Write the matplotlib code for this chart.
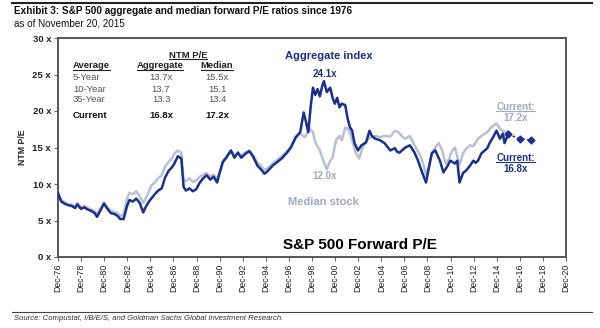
import matplotlib
matplotlib.use("Agg")
import matplotlib.pyplot as plt
from matplotlib.lines import Line2D

plt.rcParams['font.family'] = ['Liberation Sans', 'DejaVu Sans']

# ---------------- data ----------------
agg_years = [1976.92, 1977.2, 1977.5, 1977.8, 1978.1, 1978.4, 1978.6, 1978.9, 1979.2, 1979.5,
             1979.8, 1980.1, 1980.3, 1980.6, 1980.9, 1981.2, 1981.5, 1981.8, 1982.1, 1982.3,
             1982.6, 1982.9, 1983.1, 1983.4, 1983.7, 1984.0, 1984.3, 1984.5, 1984.8, 1985.0,
             1985.3, 1985.6, 1985.9, 1986.2, 1986.5, 1986.8, 1987.0, 1987.3, 1987.6, 1987.8,
             1988.0, 1988.3, 1988.6, 1988.9, 1989.2, 1989.5, 1989.8, 1990.1, 1990.4, 1990.7,
             1990.9, 1991.2, 1991.5, 1991.9, 1992.2, 1992.5, 1992.8, 1993.2, 1993.5, 1993.8,
             1994.2, 1994.5, 1994.8, 1995.1, 1995.5, 1995.9, 1996.3, 1996.7, 1997.1, 1997.5,
             1997.9, 1998.2, 1998.4, 1998.6, 1998.8, 1999.0, 1999.2, 1999.4, 1999.6, 1999.8,
             1999.95, 2000.2, 2000.5, 2000.7, 2000.9, 2001.1, 2001.3, 2001.5, 2001.8, 2002.0,
             2002.2, 2002.4, 2002.6, 2002.9, 2003.2, 2003.6, 2003.9, 2004.1, 2004.4, 2004.8,
             2005.2, 2005.5, 2005.7, 2006.1, 2006.3, 2006.5, 2007.0, 2007.4, 2007.8, 2008.1,
             2008.3, 2008.6, 2008.8, 2009.0, 2009.3, 2009.6, 2010.0, 2010.3, 2010.6, 2010.9,
             2011.3, 2011.5, 2011.7, 2012.0, 2012.3, 2012.6, 2012.9, 2013.1, 2013.3, 2013.6,
             2014.1, 2014.3, 2014.6, 2014.9, 2015.2, 2015.45, 2015.6, 2015.89]
agg_pe = [8.7, 7.6, 7.3, 7.1, 7.0, 6.7, 7.2, 6.6, 6.8, 6.5,
          6.3, 6.0, 5.5, 6.4, 7.3, 6.6, 6.0, 5.9, 5.6, 5.2,
          5.2, 7.0, 7.8, 7.6, 8.0, 7.4, 6.1, 6.8, 7.6, 8.0,
          8.6, 9.1, 9.4, 10.9, 11.8, 12.3, 12.8, 13.8, 13.5, 9.6,
          9.1, 9.4, 9.0, 9.3, 10.2, 10.8, 11.2, 10.6, 11.0, 10.2,
          11.4, 13.0, 13.6, 14.6, 13.6, 14.3, 13.6, 14.2, 14.5, 13.8,
          12.5, 12.0, 11.4, 11.8, 12.5, 13.0, 13.5, 14.2, 15.0, 16.4,
          17.1, 19.8, 18.5, 17.1, 20.5, 23.2, 22.2, 23.0, 22.0, 23.4,
          24.1, 22.6, 23.2, 21.8, 21.0, 21.8, 20.5, 21.0, 20.8, 19.0,
          17.8, 17.3, 15.6, 14.6, 15.3, 15.7, 17.3, 16.6, 16.2, 16.0,
          15.6, 15.0, 14.6, 14.9, 14.4, 14.3, 15.0, 15.3, 14.3, 13.2,
          12.3, 11.0, 10.2, 11.9, 14.2, 14.6, 13.2, 11.6, 12.3, 13.2,
          12.8, 13.2, 10.2, 11.5, 11.9, 12.5, 13.2, 12.9, 13.2, 14.2,
          14.9, 15.6, 16.4, 17.3, 16.2, 16.9, 15.6, 16.8]

med_years = [1976.92, 1977.2, 1977.5, 1977.8, 1978.1, 1978.4, 1978.6, 1978.9, 1979.2, 1979.5,
             1979.8, 1980.1, 1980.3, 1980.6, 1980.9, 1981.2, 1981.5, 1981.8, 1982.1, 1982.3,
             1982.6, 1982.9, 1983.1, 1983.4, 1983.7, 1984.0, 1984.3, 1984.5, 1984.8, 1985.0,
             1985.3, 1985.6, 1985.9, 1986.2, 1986.5, 1986.8, 1987.0, 1987.3, 1987.6, 1987.8,
             1988.0, 1988.3, 1988.6, 1988.9, 1989.2, 1989.5, 1989.8, 1990.1, 1990.4, 1990.7,
             1990.9, 1991.2, 1991.5, 1991.9, 1992.2, 1992.5, 1992.8, 1993.2, 1993.5, 1993.8,
             1994.2, 1994.5, 1994.8, 1995.1, 1995.5, 1995.9, 1996.3, 1996.7, 1997.1, 1997.5,
             1997.9, 1998.3, 1998.7, 1999.0, 1999.2, 1999.6, 1999.9, 2000.2, 2000.5, 2000.7,
             2001.0, 2001.3, 2001.5, 2001.8, 2002.1, 2002.4, 2002.7, 2003.0, 2003.3, 2003.7,
             2004.0, 2004.4, 2004.8, 2005.2, 2005.7, 2006.1, 2006.4, 2006.8, 2007.0, 2007.4,
             2007.8, 2008.3, 2008.6, 2008.8, 2009.0, 2009.3, 2009.6, 2009.9, 2010.2, 2010.5,
             2010.8, 2011.0, 2011.3, 2011.7, 2012.0, 2012.3, 2012.6, 2012.9, 2013.3, 2013.6,
             2014.1, 2014.4, 2014.9, 2015.2, 2015.6, 2015.89]
med_pe = [8.8, 7.8, 7.5, 7.2, 7.2, 6.9, 7.4, 6.8, 7.0, 6.7,
          6.5, 6.3, 5.9, 6.6, 7.5, 6.8, 6.3, 6.2, 6.0, 5.6,
          5.8, 8.0, 8.8, 8.6, 9.0, 8.3, 7.4, 8.0, 9.0, 9.8,
          10.2, 10.8, 11.2, 12.4, 13.0, 13.6, 14.2, 14.6, 14.3, 10.5,
          10.4, 10.8, 10.3, 10.5, 11.0, 11.3, 11.5, 11.0, 11.3, 10.6,
          11.6, 13.2, 13.8, 14.5, 13.9, 14.2, 13.9, 14.4, 14.6, 14.0,
          12.9, 12.5, 11.9, 12.2, 12.8, 13.3, 13.8, 14.4, 15.2, 16.2,
          16.9, 16.4, 17.6, 17.1, 15.7, 14.6, 13.2, 12.0, 13.2, 13.6,
          16.0, 16.6, 16.0, 17.7, 17.5, 16.0, 14.3, 13.5, 15.0, 16.0,
          16.4, 16.6, 16.4, 16.6, 16.5, 17.3, 17.1, 16.4, 16.2, 16.6,
          15.3, 13.9, 12.5, 11.3, 12.0, 14.3, 15.0, 15.6, 14.6, 12.8,
          13.5, 14.4, 15.0, 12.6, 14.2, 14.9, 15.3, 15.2, 16.2, 16.6,
          17.1, 17.7, 18.3, 17.6, 17.1, 17.2]

fwd_years = [2015.89, 2016.92, 2017.92]
fwd_pe = [16.8, 16.2, 16.0]

xtick_years = [1976.92 + 2 * i for i in range(23)]
xtick_labels = ['Dec-%02d' % ((76 + 2 * i) % 100) for i in range(23)]
ytick_vals = [0, 5, 10, 15, 20, 25, 30]
ytick_labels = ['%d x' % v for v in ytick_vals]

table_rows = ['5-Year', '10-Year', '35-Year']
table_agg = ['13.7x', '13.7', '13.3']
table_med = ['15.5x', '15.1', '13.4']
current_agg = '16.8x'
current_med = '17.2x'

# ---------------- styles ----------------
NAVY = '#1b3187'
LIGHT = '#b9c0d6'
LIGHT_TXT = '#9ea8c8'

fig = plt.figure(figsize=(6, 3.28), dpi=100)
W, H = 600, 328
ax = fig.add_axes([58 / W, 1 - 257 / H, (566 - 58) / W, (257 - 38) / H])

ax.plot(med_years, med_pe, color=LIGHT, lw=1.8, zorder=2)
ax.plot(agg_years, agg_pe, color=NAVY, lw=1.8, zorder=3)
ax.plot(fwd_years, fwd_pe, color=NAVY, lw=1.2, ls=(0, (1.5, 1.5)), marker='D',
        markersize=3.5, zorder=3)

ax.set_xlim(1976.92, 2020.92)
ax.set_ylim(0, 30)
ax.set_xticks(xtick_years)
ax.set_xticklabels(xtick_labels, rotation=90, fontsize=6.3, color='#222222')
ax.set_yticks(ytick_vals)
ax.set_yticklabels(ytick_labels, fontsize=6.8, fontweight='bold', color='#222222')
ax.tick_params(axis='both', length=3, width=0.8, color='#666666', pad=2)
for s in ax.spines.values():
    s.set_color('#555555')
    s.set_linewidth(1.4)
ax.set_ylabel('NTM P/E', fontsize=6.3, fontweight='bold', labelpad=4, color='#222222')

# chart annotations
ax.text(1996.57, 27.6, 'Aggregate index', fontsize=8, fontweight='bold', color=NAVY,
        va='center', ha='left')
ax.text(2000.05, 25.1, '24.1x', fontsize=7, fontweight='bold', color=NAVY,
        va='center', ha='center')
ax.text(2000.05, 11.1, '12.0x', fontsize=7, fontweight='bold', color=LIGHT_TXT,
        va='center', ha='center')
ax.text(1996.8, 7.5, 'Median stock', fontsize=8, fontweight='bold', color=LIGHT_TXT,
        va='center', ha='left')
t_cm = ax.text(2016.55, 20.6, 'Current:', fontsize=7, fontweight='bold', color=LIGHT_TXT,
               va='center', ha='center')
ax.text(2016.55, 19.0, current_med, fontsize=7, fontweight='bold', color=LIGHT_TXT,
        va='center', ha='center')
t_ca = ax.text(2016.55, 13.6, 'Current:', fontsize=7, fontweight='bold', color=NAVY,
               va='center', ha='center')
ax.text(2016.55, 12.1, current_agg, fontsize=7, fontweight='bold', color=NAVY,
        va='center', ha='center')
ax.text(2003.1, 1.6, 'S&P 500 Forward P/E', fontsize=11, fontweight='bold',
        color='black', va='center', ha='center')

# table
def axx(px):
    return (px - 58) / 508.0

def axy(py):
    return (257 - py) / 219.0

tr = ax.transAxes
tsz = 6.8
t_ntm = ax.text(axx(188), axy(55), 'NTM P/E', transform=tr, fontsize=tsz, fontweight='bold',
                ha='center', va='center', color='#222222')
t_avg = ax.text(axx(73), axy(66), 'Average', transform=tr, fontsize=tsz, fontweight='bold',
                ha='left', va='center', color='#222222')
t_agh = ax.text(axx(160), axy(66), 'Aggregate', transform=tr, fontsize=tsz, fontweight='bold',
                ha='center', va='center', color='#222222')
t_mdh = ax.text(axx(217), axy(66), 'Median', transform=tr, fontsize=tsz, fontweight='bold',
                ha='center', va='center', color='#222222')
row_y = [78, 89, 100]
for lab, a, m, py in zip(table_rows, table_agg, table_med, row_y):
    ax.text(axx(73), axy(py), lab, transform=tr, fontsize=tsz, ha='left', va='center',
            color='#555555')
    ax.text(axx(161), axy(py), a, transform=tr, fontsize=tsz, ha='center', va='center',
            color='#555555')
    ax.text(axx(217), axy(py), m, transform=tr, fontsize=tsz, ha='center', va='center',
            color='#555555')
ax.text(axx(73), axy(115), 'Current', transform=tr, fontsize=tsz, fontweight='bold',
        ha='left', va='center', color='#111111')
ax.text(axx(161), axy(115), current_agg, transform=tr, fontsize=tsz, fontweight='bold',
        ha='center', va='center', color='#111111')
ax.text(axx(217), axy(115), current_med, transform=tr, fontsize=tsz, fontweight='bold',
        ha='center', va='center', color='#111111')

# titles and source
fig.text(14 / W, 1 - 11 / H, 'Exhibit 3: S&P 500 aggregate and median forward P/E ratios since 1976',
         fontsize=7.2, fontweight='bold', ha='left', va='center', color='#111111')
fig.text(14 / W, 1 - 23 / H, 'as of November 20, 2015', fontsize=7.1, ha='left', va='center',
         color='#111111')
fig.text(14 / W, 1 - 318 / H,
         'Source: Compustat, I/B/E/S, and Goldman Sachs Global Investment Research.',
         fontsize=5.6, style='italic', ha='left', va='center', color='#333333')
fig.add_artist(Line2D([12 / W, 592 / W], [1 - 3 / H, 1 - 3 / H], color='#222222', lw=1.5))
fig.add_artist(Line2D([12 / W, 592 / W], [1 - 312 / H, 1 - 312 / H], color='#444444', lw=0.8))

# underlines
fig.canvas.draw()
renderer = fig.canvas.get_renderer()
inv = fig.transFigure.inverted()
for t, col in [(t_ntm, '#222222'), (t_avg, '#222222'), (t_agh, '#222222'), (t_mdh, '#222222'),
               (t_cm, LIGHT_TXT), (t_ca, NAVY)]:
    bb = t.get_window_extent(renderer)
    (x0, y0), (x1, y1) = inv.transform([(bb.x0, bb.y0 + 1), (bb.x1, bb.y0 + 1)])
    fig.add_artist(Line2D([x0, x1], [y0, y1], color=col, lw=0.8))

fig.savefig('out.png', dpi=100)
